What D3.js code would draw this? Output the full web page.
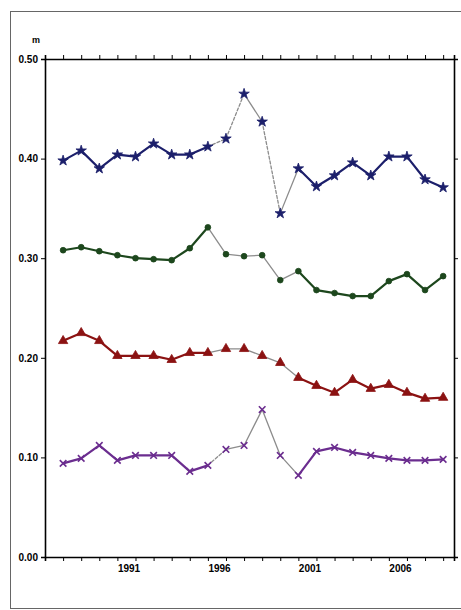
<!DOCTYPE html>
<html><head><meta charset="utf-8">
<script src="https://cdn.jsdelivr.net/npm/d3@7"></script>
<style>
html,body{margin:0;padding:0;background:#fff;}
svg{display:block;}
.ax text{font-family:"Liberation Sans",Arial,sans-serif;font-weight:bold;font-size:10px;fill:#000;}
</style></head>
<body>
<script>
const years = d3.range(1988, 2010);
const labelYears = [1991, 1996, 2001, 2006];
const yTicks = [0, 0.1, 0.2, 0.3, 0.4, 0.5];
const seriesNames = ["blue", "green", "red", "purple"];
const blueVals = [0.398,0.408,0.390,0.404,0.402,0.415,0.404,0.404,0.412,0.420,0.465,0.437,0.345,0.390,0.372,0.383,0.396,0.383,0.402,0.402,0.379,0.371];
const greenVals = [0.308,0.311,0.307,0.303,0.300,0.299,0.298,0.310,0.331,0.304,0.302,0.303,0.278,0.287,0.268,0.265,0.262,0.262,0.277,0.284,0.268,0.282];
const redVals = [0.217,0.225,0.217,0.202,0.202,0.202,0.198,0.205,0.205,0.209,0.209,0.202,0.195,0.180,0.172,0.165,0.178,0.169,0.173,0.165,0.159,0.160];
const purpleVals = [0.094,0.099,0.112,0.097,0.102,0.102,0.102,0.086,0.092,0.108,0.112,0.148,0.102,0.082,0.106,0.110,0.105,0.102,0.099,0.097,0.097,0.098];
const gapStart = 1996, gapEnd = 2001;
const dashedSegments = {blue:[1996,1997,1999], green:[], red:[], purple:[1996]};

const W = 461, H = 610;
const svg = d3.select("body").append("svg").attr("width", W).attr("height", H);

svg.append("rect").attr("x",10.5).attr("y",11.5).attr("width",460).attr("height",597)
  .attr("fill","none").attr("stroke","#666").attr("stroke-width",1);

const x = d3.scaleLinear().domain([1987, 2009.6]).range([45, 454]);
const y = d3.scaleLinear().domain([0, 0.5]).range([557, 59]);

const series = [
  {name:"blue", vals:blueVals, color:"#1c1f6b", sym:d3.symbolStar, size:34, fill:true},
  {name:"green", vals:greenVals, color:"#1d471d", sym:d3.symbolCircle, size:26, fill:true},
  {name:"red", vals:redVals, color:"#8b1212", sym:d3.symbolTriangle, size:38, fill:true},
  {name:"purple", vals:purpleVals, color:"#6b2d8f", sym:(d3.symbolTimes||d3.symbolCross), size:30, fill:false}
];

// axes
const gL = svg.append("g").attr("class","ax").attr("transform",`translate(${x.range()[0]},0)`)
  .call(d3.axisLeft(y).tickValues(yTicks).tickFormat(d3.format(".2f")).tickSize(4).tickPadding(3));
const gR = svg.append("g").attr("class","ax").attr("transform",`translate(${x.range()[1]},0)`)
  .call(d3.axisRight(y).tickValues(yTicks).tickFormat("").tickSize(4));
const gB = svg.append("g").attr("class","ax").attr("transform",`translate(0,${y(0)})`)
  .call(d3.axisBottom(x).tickValues(years).tickFormat(d => labelYears.includes(d) ? d : "").tickSize(4).tickPadding(4));
gB.selectAll("text").attr("text-anchor","start");
const gT = svg.append("g").attr("class","ax").attr("transform",`translate(0,${y(0.5)})`)
  .call(d3.axisTop(x).tickValues(years).tickFormat("").tickSize(4));
[gL,gR,gB,gT].forEach(g => {
  g.select(".domain").attr("stroke","#000").attr("stroke-width",1.6);
  g.selectAll(".tick line").attr("stroke","#000").attr("stroke-width",1);
});
// unit label
svg.append("text").attr("x",36).attr("y",43).attr("text-anchor","middle")
  .attr("font-family","Liberation Sans, Arial, sans-serif").attr("font-weight","bold").attr("font-size",9).text("m");

// series
series.forEach(s => {
  const g = svg.append("g");
  const pts = years.map((yr,i) => ({yr, v:s.vals[i]}));
  for (let i = 0; i < pts.length-1; i++) {
    const a = pts[i], b = pts[i+1];
    const inGap = a.yr >= gapStart && a.yr < gapEnd;
    const dashed = dashedSegments[s.name].includes(a.yr);
    g.append("line")
      .attr("x1", x(a.yr)).attr("y1", y(a.v)).attr("x2", x(b.yr)).attr("y2", y(b.v))
      .attr("stroke", inGap ? "#8c8c8c" : s.color)
      .attr("stroke-width", inGap ? 1.3 : 2.2)
      .attr("stroke-dasharray", dashed ? "3,2" : null)
      .attr("stroke-linecap","round");
  }
  g.selectAll("path.m").data(pts).join("path").attr("class","m")
    .attr("transform", d => `translate(${x(d.yr)},${y(d.v)})`)
    .attr("d", d3.symbol().type(s.sym).size(s.size))
    .attr("fill", s.fill ? s.color : "none")
    .attr("stroke", s.color)
    .attr("stroke-width", s.fill ? 0.8 : 1.6);
});
</script>
</body></html>
